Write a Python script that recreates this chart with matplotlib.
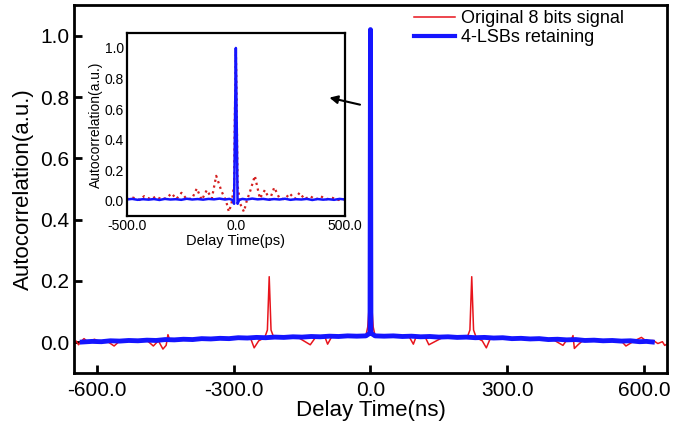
import matplotlib
matplotlib.use("Agg")
from matplotlib import pyplot as plt
from matplotlib.ticker import FormatStrFormatter

plt.rcParams["font.family"] = ["Liberation Sans", "DejaVu Sans"]

# main plot: Original 8 bits signal (red)
red_x = [-650, -645, -640, -635, -628, -620, -605, -595, -580, -562, -550, -520, -490, -476, -465,
         -455, -448, -444, -440, -420, -400, -380, -350, -320, -300, -280, -262, -255, -245, -232,
         -226, -222, -218, -212, -190, -160, -132, -120, -100, -94, -85, -60, -30, -10, -6, -3, 0,
         3, 6, 10, 30, 60, 85, 94, 100, 120, 128, 160, 190, 212, 218, 222, 226, 232, 245, 254, 262,
         280, 300, 320, 350, 380, 400, 422, 430, 440, 444, 447, 455, 465, 490, 520, 550, 560, 580,
         594, 605, 620, 630, 640, 645, 650]
red_y = [-0.005, 0.004, -0.008, 0.002, 0.012, 0.002, 0.010, 0.003, 0.006, -0.012, 0.004, 0.005, 0.006, -0.012, 0.005,
         -0.022, -0.010, 0.025, 0.007, 0.008, 0.009, 0.010, 0.011, 0.012, 0.013, 0.013, 0.010, -0.018, 0.005, 0.015,
         0.040, 0.214, 0.040, 0.016, 0.016, 0.017, -0.008, 0.017, 0.018, -0.006, 0.018, 0.019, 0.020, 0.022, 0.050, 0.115, 1.0,
         0.115, 0.050, 0.022, 0.020, 0.019, 0.018, -0.006, 0.018, 0.017, -0.008, 0.017, 0.016, 0.016, 0.040, 0.214, 0.040, 0.015, 0.005, -0.018, 0.010,
         0.013, 0.013, 0.012, 0.011, 0.010, 0.009, -0.010, 0.007, 0.007, 0.022, -0.020, -0.008, 0.005, 0.006, 0.005, 0.004, -0.012, 0.006,
         0.016, 0.004, 0.006, -0.004, 0.002, -0.010, -0.006]

# main plot: 4-LSBs retaining (blue)
blue_x = [-632, -610, -590, -570, -550, -530, -510, -490, -470, -450, -430, -410, -390, -370, -350,
          -330, -310, -290, -270, -250, -230, -210, -190, -170, -150, -130, -110, -90, -70, -50, -30,
          -10, -1, 0, 1, 10, 30, 50, 70, 90, 110, 130, 150, 170, 190, 210, 230, 250, 270, 290, 310,
          330, 350, 370, 390, 410, 430, 450, 470, 490, 510, 530, 550, 570, 590, 605, 618]
blue_y = [0.001, 0.003, 0.002, 0.005, 0.004, 0.006, 0.005, 0.007, 0.006, 0.009, 0.008, 0.010, 0.009, 0.012, 0.011,
          0.013, 0.012, 0.015, 0.014, 0.016, 0.015, 0.017, 0.016, 0.018, 0.017, 0.019, 0.018, 0.020, 0.019, 0.021, 0.020,
          0.021, 0.030, 1.020, 0.030, 0.021, 0.020, 0.021, 0.019, 0.020, 0.018, 0.019, 0.017, 0.018, 0.016, 0.017, 0.015,
          0.016, 0.014, 0.015, 0.012, 0.013, 0.011, 0.012, 0.009, 0.010, 0.008, 0.009, 0.006, 0.007, 0.005, 0.006, 0.004,
          0.005, 0.002, 0.003, 0.001]

# inset (ps)
ins_red_x = [-500, -470, -440, -420, -390, -365, -340, -315, -295, -272, -249, -225, -200, -179, -156,
             -133, -110, -90, -65, -45, -32, -20, -8, -4, 0, 4, 8, 20, 37, 50, 65, 87, 110, 133, 155,
             176, 200, 225, 246, 270, 292, 315, 340, 365, 390, 415, 440, 470, 500]
ins_red_y = [0.010, 0.020, 0.005, 0.030, 0.010, 0.028, 0.008, 0.020, 0.048, 0.012, 0.052, 0.010, 0.015, 0.080, 0.005,
             0.070, 0.015, 0.163, 0.060, 0.000, -0.072, -0.020, 0.100, 0.600, 1.000, 0.600, 0.100, -0.020, -0.072, 0.000, 0.060, 0.163, 0.015, 0.070, 0.005,
             0.087, 0.015, 0.010, 0.048, 0.012, 0.052, 0.010, 0.030, 0.008, 0.028, 0.010, 0.020, 0.005, 0.010]
ins_blue_x = [-500, -475, -450, -425, -400, -375, -350, -325, -300, -275, -250, -225, -200, -175, -150,
              -125, -100, -75, -50, -30, -15, -8, -4, 0, 4, 8, 15, 30, 50, 75, 100, 125, 150, 175, 200,
              225, 250, 275, 300, 325, 350, 375, 400, 425, 450, 475, 500]
ins_blue_y = [0.008, 0.012, 0.006, 0.010, 0.007, 0.011, 0.005, 0.012, 0.008, 0.010, 0.006, 0.013, 0.008, 0.011, 0.007,
              0.012, 0.009, 0.014, 0.008, 0.012, 0.005, -0.020, 0.500, 1.000, 0.500, -0.020, 0.005, 0.012, 0.008, 0.014, 0.009,
              0.012, 0.007, 0.011, 0.008, 0.013, 0.006, 0.010, 0.008, 0.012, 0.005, 0.011, 0.007, 0.010, 0.006, 0.012, 0.008]

fig = plt.figure(figsize=(6.75, 4.37), dpi=100)
ax = fig.add_axes([0.1096, 0.1465, 0.8785, 0.842])
ax.plot(red_x, red_y, color="#e8141c", lw=1.1, label="Original 8 bits signal")
ax.plot(blue_x, blue_y, color="#1515ff", lw=3.5, label="4-LSBs retaining")
ax.set_xlim(-650, 650)
ax.set_ylim(-0.1, 1.1)
ax.set_xticks([-600, -300, 0, 300, 600])
ax.set_yticks([0.0, 0.2, 0.4, 0.6, 0.8, 1.0])
ax.xaxis.set_major_formatter(FormatStrFormatter("%.1f"))
ax.yaxis.set_major_formatter(FormatStrFormatter("%.1f"))
ax.tick_params(direction="in", length=6, width=2, labelsize=15)
ax.tick_params(axis="x", pad=6)
for s in ax.spines.values():
    s.set_linewidth(2)
ax.set_xlabel("Delay Time(ns)", fontsize=16, labelpad=0)
ax.set_ylabel("Autocorrelation(a.u.)", fontsize=16, labelpad=4)
leg = ax.legend(loc="upper right", frameon=False, fontsize=13, handlelength=2.3,
                handletextpad=0.3, labelspacing=0.1, borderaxespad=0.2, bbox_to_anchor=(0.945, 1.015))
leg.get_lines()[1].set_linewidth(3)

ins = fig.add_axes([0.1877, 0.5057, 0.3234, 0.4195])
ins.plot(ins_red_x, ins_red_y, color="#d42020", lw=1.6, ls=":")
ins.plot(ins_blue_x, ins_blue_y, color="#1515ff", lw=1.8)
ins.set_xlim(-500, 500)
ins.set_ylim(-0.1, 1.1)
ins.set_xticks([-500, 0, 500])
ins.set_yticks([0.0, 0.2, 0.4, 0.6, 0.8, 1.0])
ins.xaxis.set_major_formatter(FormatStrFormatter("%.1f"))
ins.yaxis.set_major_formatter(FormatStrFormatter("%.1f"))
ins.tick_params(length=0, labelsize=10, pad=2)
for s in ins.spines.values():
    s.set_linewidth(1.6)
ins.set_xlabel("Delay Time(ps)", fontsize=10.5, labelpad=1)
ins.set_ylabel("Autocorrelation(a.u.)", fontsize=10, labelpad=1)

# arrow pointing to the inset, drawn above it
ins.annotate("", xy=(-96, 0.80), xycoords=ax.transData, xytext=(-17, 0.773), textcoords=ax.transData,
             arrowprops=dict(arrowstyle="-|>", color="black", lw=1.5, mutation_scale=12), annotation_clip=False)

fig.savefig("out.png", dpi=100)
